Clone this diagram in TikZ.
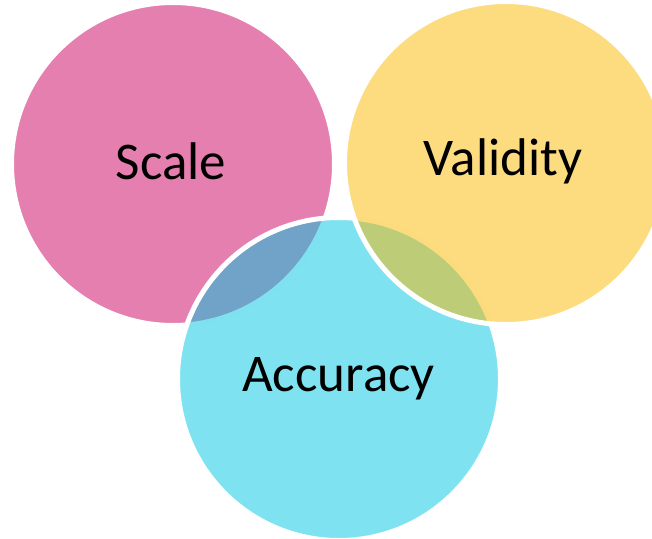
\documentclass[tikz,border=0pt]{standalone}
\usepackage{fontspec}
\setmainfont{Carlito}
\definecolor{vpink}{RGB}{201,0,97}
\definecolor{vcyan}{RGB}{0,197,225}
\definecolor{vyellow}{RGB}{251,185,1}
\begin{document}
\begin{tikzpicture}[x=1pt,y=-1pt,
  venn/.style={circle, inner sep=0pt, minimum size=323pt,
    fill opacity=0.5, draw=white, draw opacity=1, line width=5pt},
  label/.style={anchor=base, inner sep=0pt, text=black,
    font=\fontsize{53}{60}\selectfont}]
  \useasboundingbox (0,0) rectangle (652,538);
  \clip (0,0) rectangle (652,538);
  % the three sets, later ones laid over earlier ones
  \node[venn, fill=vpink]   (scale)    at (173,164) {};
  \node[venn, fill=vcyan]   (accuracy) at (339,379) {};
  \node[venn, fill=vyellow] (validity) at (506,163) {};
  % set names
  \node[label] (scaletext)    at (171,179)   {Scale};
  \node[label] (validitytext) at (503,175.7) {Validity};
  \node[label] (accuracytext) at (338.5,391.7) {Accuracy};
\end{tikzpicture}
\end{document}
